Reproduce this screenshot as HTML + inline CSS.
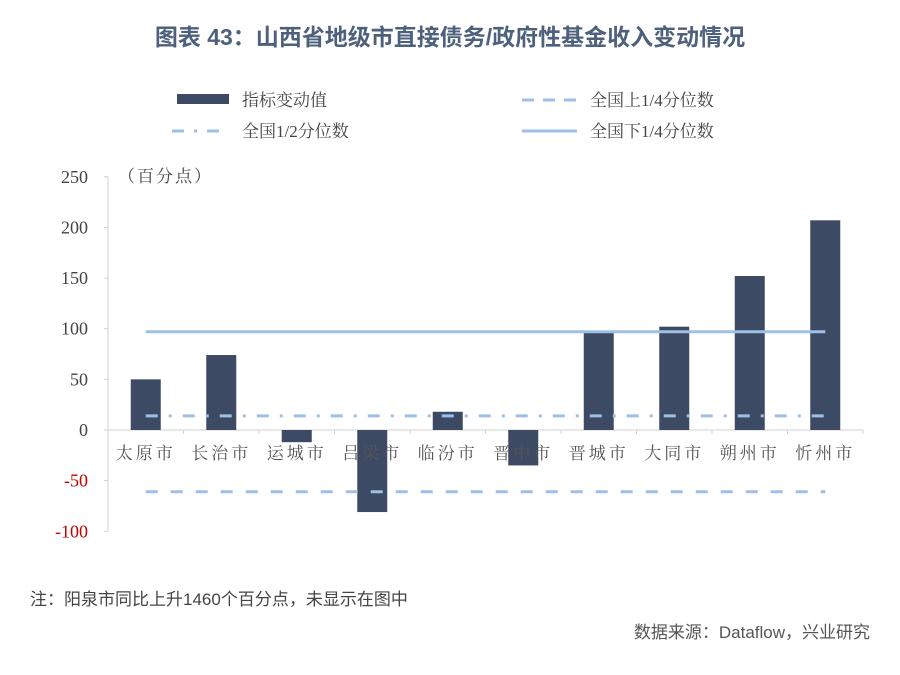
<!DOCTYPE html>
<html><head><meta charset="utf-8">
<style>
body{margin:0;background:#fff;width:900px;height:670px;overflow:hidden;font-family:"Liberation Serif","Noto Serif CJK SC",serif;}
</style></head>
<body>
<svg width="900" height="670" id="c" xmlns="http://www.w3.org/2000/svg">
<text x="450" y="45" text-anchor="middle" font-size="23" font-weight="bold" fill="#4d607c" font-family="Liberation Sans, Noto Sans CJK SC, sans-serif">图表 43：山西省地级市直接债务/政府性基金收入变动情况</text>
<g font-size="17" fill="#444">
<rect x="177" y="94" width="52" height="10" fill="#3d4a64"/>
<text x="242" y="106">指标变动值</text>
<line x1="522" y1="100" x2="577" y2="100" stroke="#9dc0e4" stroke-width="3" stroke-dasharray="12,9"/>
<text x="590" y="106">全国上1/4分位数</text>
<line x1="172" y1="131" x2="227" y2="131" stroke="#9dc0e4" stroke-width="3" stroke-dasharray="12,10,3,10"/>
<text x="242" y="137">全国1/2分位数</text>
<line x1="522" y1="131" x2="577" y2="131" stroke="#9dc0e4" stroke-width="3"/>
<text x="590" y="137">全国下1/4分位数</text>
</g>
<text x="118" y="182" font-size="17" fill="#444" letter-spacing="2">（百分点）</text>
<g id="plot"></g>
<text x="30" y="605" font-size="17" fill="#444" font-family="Liberation Sans, Noto Sans CJK SC, sans-serif">注：阳泉市同比上升1460个百分点，未显示在图中</text>
<text x="870" y="638" text-anchor="end" font-size="17" fill="#555" font-family="Liberation Sans, Noto Sans CJK SC, sans-serif">数据来源：Dataflow，兴业研究</text>
</svg>
<script>
const categories=["太原市","长治市","运城市","吕梁市","临汾市","晋中市","晋城市","大同市","朔州市","忻州市"];
const values=[50,74,-12,-81,18,-35,96,102,152,207];
const upperQ=[-61];
const median=[14];
const lowerQ=[97];
const yTicks=[250,200,150,100,50,0,-50,-100];
const NS="http://www.w3.org/2000/svg";
const g=document.getElementById('plot');
const x0=108,step=75.5,y0=430,k=1.013;
const Y=v=>y0-v*k;
const X=i=>x0+step*(i+0.5);
function mk(t,a){const e=document.createElementNS(NS,t);for(const n in a)e.setAttribute(n,a[n]);g.appendChild(e);return e;}
const ax=mk('line',{x1:x0,y1:Y(250),x2:x0,y2:Y(-100),stroke:'#d0d0d0','stroke-width':1});


yTicks.forEach(t=>{
 const tl=mk('line',{x1:x0-4,y1:Y(t),x2:x0,y2:Y(t),stroke:'#d0d0d0'});
 
 
 const tx=mk('text',{x:x0-20,y:Y(t)+6,'text-anchor':'end','font-size':18,fill:t<0?'#c00000':'#444'});
 tx.textContent=t;
 
 
});
const xl=mk('line',{x1:x0,y1:y0,x2:x0+step*categories.length,y2:y0,stroke:'#d0d0d0'});


categories.forEach((c,i)=>{
 const tk=mk('line',{x1:x0+step*(i+1),y1:y0,x2:x0+step*(i+1),y2:y0+4,stroke:'#d0d0d0'});
 
 
 const v=values[i];
 const b=mk('rect',{x:X(i)-15,y:Math.min(Y(v),y0),width:30,height:Math.abs(Y(v)-y0),fill:'#3d4a64'});
 
 
});
categories.forEach((c,i)=>{
 const t=mk('text',{x:X(i),y:459,'text-anchor':'middle','font-size':17,fill:'#555','letter-spacing':3});
 t.textContent=c;
 
 
});
const xa=X(0),xb=X(categories.length-1);
const l1=mk('line',{x1:xa,y1:Y(lowerQ[0]),x2:xb,y2:Y(lowerQ[0]),stroke:'#9dc0e4','stroke-width':3});


const l2=mk('line',{x1:xa,y1:Y(median[0]),x2:xb,y2:Y(median[0]),stroke:'#9dc0e4','stroke-width':3,'stroke-dasharray':'12,11,3,11'});


const l3=mk('line',{x1:xa,y1:Y(upperQ[0]),x2:xb,y2:Y(upperQ[0]),stroke:'#9dc0e4','stroke-width':3,'stroke-dasharray':'12,13'});


</script>
</body></html>
